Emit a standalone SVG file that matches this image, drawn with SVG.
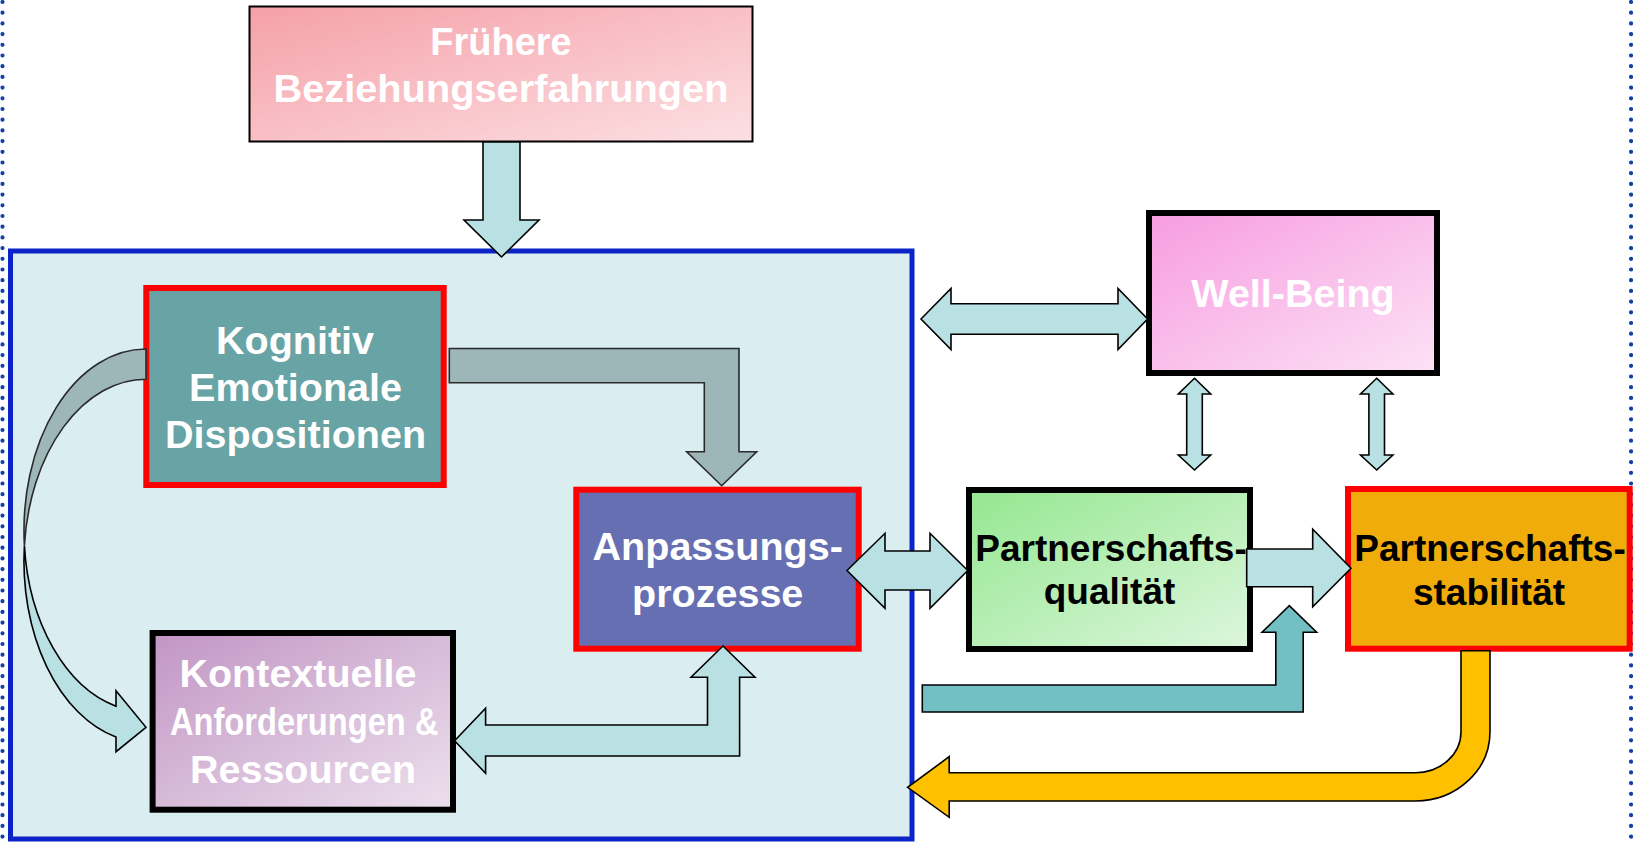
<svg xmlns="http://www.w3.org/2000/svg" width="1633" height="842" viewBox="0 0 1633 842">
<defs>
<linearGradient id="gPink" x1="0" y1="0" x2="1" y2="1"><stop offset="0" stop-color="#F5A0A8"/><stop offset="1" stop-color="#FCE0E3"/></linearGradient>
<linearGradient id="gMagenta" x1="0" y1="0" x2="1" y2="1"><stop offset="0" stop-color="#F79CE1"/><stop offset="1" stop-color="#FCE2F5"/></linearGradient>
<linearGradient id="gGreen" x1="0" y1="0" x2="1" y2="1"><stop offset="0" stop-color="#94E790"/><stop offset="1" stop-color="#DDF6DD"/></linearGradient>
<linearGradient id="gViolet" x1="0" y1="0" x2="1" y2="1"><stop offset="0" stop-color="#C295C4"/><stop offset="1" stop-color="#ECE0ED"/></linearGradient>
<style>
.dots{fill:none;stroke:#123FA8;stroke-width:4.2;stroke-linecap:round;stroke-dasharray:0 10.7}
.frame{fill:#DAEDF0;stroke:#0A24C8;stroke-width:5}
.bk{stroke:#000;stroke-width:6}
.rd{stroke:#FF0000;stroke-width:6}
.thin{stroke:#000;stroke-width:2}
.arr{fill:#B9E0E3;stroke:#000;stroke-width:1.6;stroke-linejoin:miter}
.gray{fill:#9DB6B8;stroke:#2A2A2A;stroke-width:1.6}
.teal{fill:#72BFC4;stroke:#000;stroke-width:1.6}
.gold{fill:#FFC000;stroke:#000;stroke-width:1.6}
.t{font-family:"Liberation Sans",Arial,sans-serif;font-weight:bold;text-anchor:middle}
.w{fill:#FFFFFF;font-size:39.5px}
.b{fill:#000000;font-size:37px}
</style>
</defs>

<g id="page-border">
<line class="dots" x1="2.5" y1="2" x2="2.5" y2="842"/>
<line class="dots" x1="1631" y1="2" x2="1631" y2="842"/>
</g>

<g id="dyadic-frame">
<rect class="frame" x="10.5" y="251" width="901.5" height="588"/>
</g>

<g id="fruehere">
<rect class="thin" x="249.5" y="6.5" width="503" height="135" fill="url(#gPink)"/>
<text class="t w" style="font-size:38px" x="501" y="55">Frühere</text>
<text class="t w" style="font-size:38px" x="501" y="102" textLength="455" lengthAdjust="spacingAndGlyphs">Beziehungserfahrungen</text>
</g>

<g id="kognitiv">
<rect class="rd" x="146.3" y="288" width="297.4" height="197" fill="#68A4A5"/>
<text class="t w" x="295" y="354">Kognitiv</text>
<text class="t w" x="295.5" y="400.7">Emotionale</text>
<text class="t w" x="295.5" y="448">Dispositionen</text>
</g>

<g id="anpassung">
<rect class="rd" x="576.3" y="489.7" width="282.4" height="159" fill="#676FB3"/>
<text class="t w" x="717.7" y="560">Anpassungs-</text>
<text class="t w" x="717.7" y="606.7">prozesse</text>
</g>

<g id="kontext">
<rect class="bk" x="152.6" y="633" width="300.4" height="176.7" fill="url(#gViolet)"/>
<text class="t w" x="298" y="686.7">Kontextuelle</text>
<text class="t w" x="304.2" y="735" textLength="268.6" lengthAdjust="spacingAndGlyphs">Anforderungen &amp;</text>
<text class="t w" x="303" y="783.3">Ressourcen</text>
</g>

<g id="wellbeing">
<rect class="bk" x="1149" y="213" width="288" height="160" fill="url(#gMagenta)"/>
<text class="t w" x="1293" y="307.3">Well-Being</text>
</g>

<g id="qualitaet">
<rect class="bk" x="969" y="490" width="281" height="159" fill="url(#gGreen)"/>
<text class="t b" x="1111" y="561">Partnerschafts-</text>
<text class="t b" x="1109.5" y="603.5">qualität</text>
</g>

<g id="stabilitaet">
<rect class="rd" x="1348" y="489" width="281.7" height="159.7" fill="#F0AC0B"/>
<text class="t b" x="1490" y="561">Partnerschafts-</text>
<text class="t b" x="1489" y="605">stabilität</text>
</g>

<g id="connectors">
<path class="arr" d="M483,142 L520,142 L520,220 L539,220 L501.5,257 L464,220 L483,220 Z"/>
<path class="gray" d="M449.3,348.5 L739,348.5 L739,451.7 L756.7,451.7 L721.7,485.7 L686.7,451.7 L704.3,451.7 L704.3,382.7 L449.3,382.7 Z"/>
<path class="gray" d="M146,349 A122,181.5 0 0 0 24.4,545.5 A122,181.5 0 0 1 146,379.3 Z"/>
<path class="arr" d="M24.4,545.5 A122,181.5 0 0 0 116,737 L116,751.7 L146,727.3 L116,690.7 L116,706.2 A122,181.5 0 0 1 24.4,545.5 Z"/>
<path class="arr" d="M454.6,740.7 L485.6,708.3 L485.6,725 L707.5,725 L707.5,677.3 L691,677.3 L723,646 L755,677.3 L739.6,677.3 L739.6,756 L485.6,756 L485.6,773.3 Z"/>
<path class="arr" d="M847,570.5 L885,533.3 L885,551 L930,551 L930,533.3 L967.7,570.5 L930,608.3 L930,590 L885,590 L885,608.3 Z"/>
<path class="arr" d="M921,319 L951,288.5 L951,303.7 L1118,303.7 L1118,288.5 L1147.6,319 L1118,349.5 L1118,334.3 L951,334.3 L951,349.5 Z"/>
<path class="arr" d="M1194.5,378.3 L1210.7,394 L1202.3,394 L1202.3,455 L1210.7,455 L1194.5,470 L1178.3,455 L1186.7,455 L1186.7,394 L1178.3,394 Z"/>
<path class="arr" d="M1376.7,378.3 L1392.9,394 L1384.5,394 L1384.5,455 L1392.9,455 L1376.7,470 L1360.5,455 L1368.9,455 L1368.9,394 L1360.5,394 Z"/>
<path class="arr" d="M1246.7,549 L1312.7,549 L1312.7,529.3 L1351,568.3 L1312.7,606.7 L1312.7,586.7 L1246.7,586.7 Z"/>
<path class="teal" d="M922.3,685 L1275.8,685 L1275.8,632.3 L1262,632.3 L1289.3,605.7 L1316.6,632.3 L1303.2,632.3 L1303.2,712 L922.3,712 Z"/>
<path class="gold" d="M1461,650.7 L1490,650.7 L1490,731.7 A74.4,69.3 0 0 1 1415.6,801 L949.2,801 L949.2,817.3 L907.6,787.3 L949.2,756.7 L949.2,772.7 L1415.6,772.7 A45.4,41 0 0 0 1461,731.7 Z"/>
</g>
</svg>
